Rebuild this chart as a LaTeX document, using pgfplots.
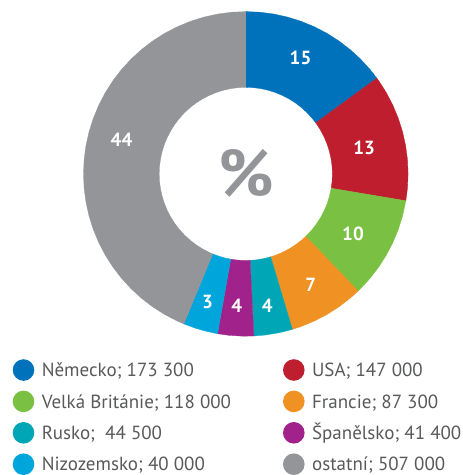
\documentclass[border=0pt]{standalone}
\usepackage{pgfplots}
\pgfplotsset{compat=1.18}
\usepackage{fontspec}
\setmainfont{PT Sans}
\definecolor{cDE}{RGB}{0,114,188}
\definecolor{cUS}{RGB}{190,30,45}
\definecolor{cGB}{RGB}{122,193,67}
\definecolor{cFR}{RGB}{239,145,35}
\definecolor{cRU}{RGB}{0,166,181}
\definecolor{cES}{RGB}{162,34,140}
\definecolor{cNL}{RGB}{0,165,219}
\definecolor{cOT}{RGB}{147,149,152}
\definecolor{textgray}{RGB}{88,89,91}
\begin{document}
\begin{tikzpicture}
\useasboundingbox (0,0) rectangle (463pt,475pt);
\begin{axis}[at={(0,0)}, anchor=south west, x=1pt, y=1pt,
  xmin=-245.8, xmax=217.2, ymin=-301.1, ymax=173.9,
  hide axis, clip=false,
  legend cell align=left, legend columns=2,
  legend image code/.code={\path[#1,draw=none] (10.8pt,0pt) circle (10.8pt);},
  legend style={draw=none, fill=none, inner sep=0pt, outer sep=0pt,
    at={(axis description cs:0.02743,0.2442)}, anchor=north west,
    row sep=9.4pt, font=\fontsize{19}{23}\selectfont, text=textgray,
    nodes={inner sep=0pt, text height=17.7pt, text depth=4.3pt},
    /tikz/every odd column/.append style={column sep=7.5pt},
    /tikz/every even column/.append style={column sep=0pt}},
  wedge/.style={fill=#1, draw=#1, line width=0.3pt, data cs=polar, mark=none}
]
\addplot[wedge=cDE] coordinates {(90,162.3) (85,162.3) (80,162.3) (75,162.3) (70,162.3) (65,162.3) (60,162.3) (55,162.3) (50,162.3) (45,162.3) (40,162.3) (36.148,162.3) (36.148,86.6) (40,86.6) (45,86.6) (50,86.6) (55,86.6) (60,86.6) (65,86.6) (70,86.6) (75,86.6) (80,86.6) (85,86.6) (90,86.6)} --cycle;
\addlegendentry{\makebox[241.2pt][l]{Německo; 173~300}}
\addplot[wedge=cUS] coordinates {(36.148,162.3) (35,162.3) (30,162.3) (25,162.3) (20,162.3) (15,162.3) (10,162.3) (5,162.3) (0,162.3) (-5,162.3) (-9.532,162.3) (-9.532,86.6) (-5,86.6) (0,86.6) (5,86.6) (10,86.6) (15,86.6) (20,86.6) (25,86.6) (30,86.6) (35,86.6) (36.148,86.6)} --cycle;
\addlegendentry{USA; 147~000}
\addplot[wedge=cGB] coordinates {(-9.532,162.3) (-15,162.3) (-20,162.3) (-25,162.3) (-30,162.3) (-35,162.3) (-40,162.3) (-45,162.3) (-46.2,162.3) (-46.2,86.6) (-45,86.6) (-40,86.6) (-35,86.6) (-30,86.6) (-25,86.6) (-20,86.6) (-15,86.6) (-9.532,86.6)} --cycle;
\addlegendentry{\makebox[241.2pt][l]{Velká Británie; 118~000}}
\addplot[wedge=cFR] coordinates {(-46.2,162.3) (-50,162.3) (-55,162.3) (-60,162.3) (-65,162.3) (-70,162.3) (-73.328,162.3) (-73.328,86.6) (-70,86.6) (-65,86.6) (-60,86.6) (-55,86.6) (-50,86.6) (-46.2,86.6)} --cycle;
\addlegendentry{Francie; 87~300}
\addplot[wedge=cRU] coordinates {(-73.328,162.3) (-78,162.3) (-83,162.3) (-87.156,162.3) (-87.156,86.6) (-83,86.6) (-78,86.6) (-73.328,86.6)} --cycle;
\addlegendentry{\makebox[241.2pt][l]{Rusko;\ \ 44~500}}
\addplot[wedge=cES] coordinates {(-87.156,162.3) (-91,162.3) (-96,162.3) (-100.021,162.3) (-100.021,86.6) (-96,86.6) (-91,86.6) (-87.156,86.6)} --cycle;
\addlegendentry{Španělsko; 41~400}
\addplot[wedge=cNL] coordinates {(-100.021,162.3) (-104,162.3) (-108,162.3) (-112.451,162.3) (-112.451,86.6) (-108,86.6) (-104,86.6) (-100.021,86.6)} --cycle;
\addlegendentry{\makebox[241.2pt][l]{Nizozemsko; 40~000}}
\addplot[wedge=cOT] coordinates {(-112.451,162.3) (-115,162.3) (-120,162.3) (-125,162.3) (-130,162.3) (-135,162.3) (-140,162.3) (-145,162.3) (-150,162.3) (-155,162.3) (-160,162.3) (-165,162.3) (-170,162.3) (-175,162.3) (-180,162.3) (-185,162.3) (-190,162.3) (-195,162.3) (-200,162.3) (-205,162.3) (-210,162.3) (-215,162.3) (-220,162.3) (-225,162.3) (-230,162.3) (-235,162.3) (-240,162.3) (-245,162.3) (-250,162.3) (-255,162.3) (-260,162.3) (-265,162.3) (-270,162.3) (-270,86.6) (-265,86.6) (-260,86.6) (-255,86.6) (-250,86.6) (-245,86.6) (-240,86.6) (-235,86.6) (-230,86.6) (-225,86.6) (-220,86.6) (-215,86.6) (-210,86.6) (-205,86.6) (-200,86.6) (-195,86.6) (-190,86.6) (-185,86.6) (-180,86.6) (-175,86.6) (-170,86.6) (-165,86.6) (-160,86.6) (-155,86.6) (-150,86.6) (-145,86.6) (-140,86.6) (-135,86.6) (-130,86.6) (-125,86.6) (-120,86.6) (-115,86.6) (-112.451,86.6)} --cycle;
\addlegendentry{ostatní; 507~000}
\begin{scope}[every node/.style={font=\bfseries\fontsize{19}{20}\selectfont, text=white}]
\node at (axis cs:54.7,115.6) {15};
\node at (axis cs:118.4,25.9) {13};
\node at (axis cs:107.2,-59.6) {10};
\node at (axis cs:65,-111.1) {7};
\node at (axis cs:21.5,-131.6) {4};
\node at (axis cs:-9.1,-131.6) {4};
\node at (axis cs:-38.3,-127.8) {3};
\node at (axis cs:-124.3,34.2) {44};
\end{scope}
\node[font=\bfseries\fontsize{66}{66}\selectfont, text=cOT] at (axis cs:0.2,0.6) {\%};
\end{axis}
\end{tikzpicture}
\end{document}
